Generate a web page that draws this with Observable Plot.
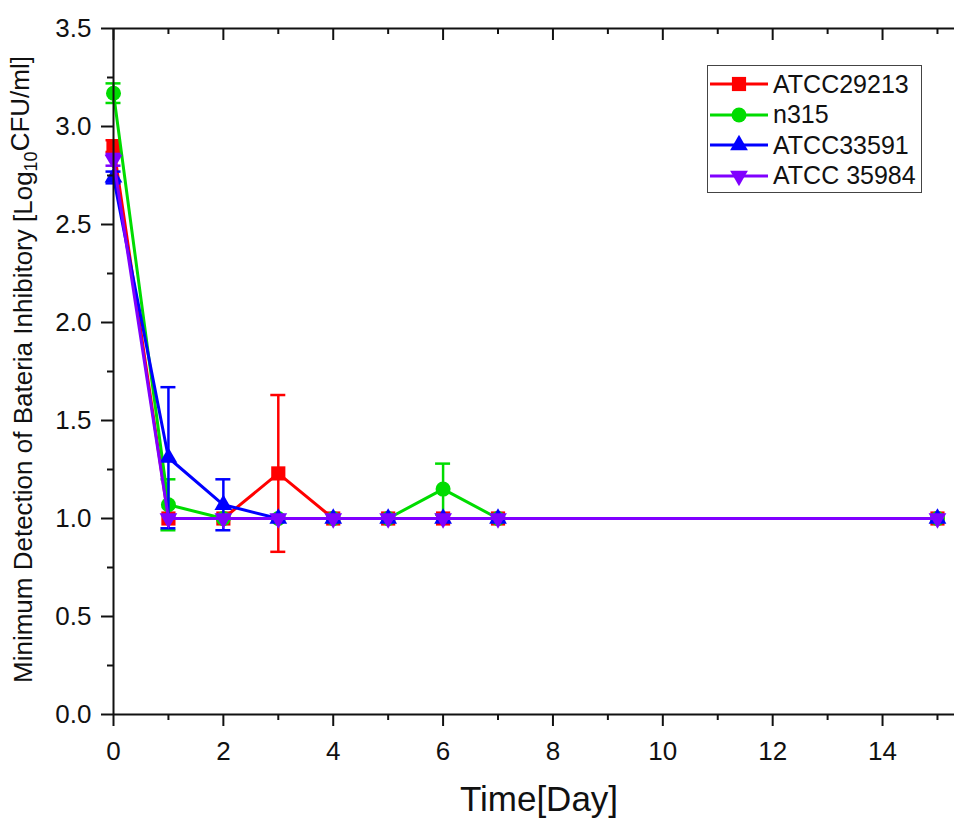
<!DOCTYPE html>
<html><head><meta charset="utf-8">
<script src="https://cdn.jsdelivr.net/npm/d3@7"></script>
<script src="https://cdn.jsdelivr.net/npm/@observablehq/plot@0.6"></script>
<style>
html,body{margin:0;padding:0;background:#fff;overflow:hidden}
#wrap{position:relative;width:954px;height:822px;font-family:"Liberation Sans",Arial,sans-serif}
#wrap svg{display:block}
#legend{position:absolute;left:707px;top:65px;width:215px;height:128px;border:1.5px solid #444;background:#fff;box-sizing:border-box;padding-top:3px}
.row{display:flex;align-items:center;height:30.5px}
.row span{font-size:25px;color:#111;margin-left:3px;white-space:pre}
</style></head><body><div id="wrap"><div id="legend"></div></div>
<script>
const days = [0, 1, 2, 3, 4, 5, 6, 7, 15];
const seriesNames = ["ATCC29213", "n315", "ATCC33591", "ATCC 35984"];
const atcc29213 = [2.90, 1.00, 1.00, 1.23, 1.00, 1.00, 1.00, 1.00, 1.00];
const atcc29213Err = [0.03, 0, 0, 0.40, 0, 0, 0, 0, 0];
const n315 = [3.17, 1.07, 1.00, 1.00, 1.00, 1.00, 1.15, 1.00, 1.00];
const n315Err = [0.05, 0.13, 0, 0, 0, 0, 0.13, 0, 0];
const atcc33591 = [2.74, 1.31, 1.07, 1.00, 1.00, 1.00, 1.00, 1.00, 1.00];
const atcc33591Err = [0.03, 0.36, 0.13, 0, 0, 0, 0, 0, 0];
const atcc35984 = [2.83, 1.00, 1.00, 1.00, 1.00, 1.00, 1.00, 1.00, 1.00];
const atcc35984Err = [0.03, 0, 0, 0, 0, 0, 0, 0, 0];
const xMajor = [0, 2, 4, 6, 8, 10, 12, 14];
const xMinor = [1, 3, 5, 7, 9, 11, 13, 15];
const yMajor = [0, 0.5, 1.0, 1.5, 2.0, 2.5, 3.0, 3.5];
const yMinor = [0.25, 0.75, 1.25, 1.75, 2.25, 2.75, 3.25];
const xLabel = "Time[Day]";
const yLabelParts = ["Minimum Detection of Bateria Inhibitory [Log", "10", "CFU/ml]"];

const colors = ["#ff0000", "#00dc00", "#0000ff", "#8000ff"];
const symbols = ["square", "circle", "triangle", "triangle"];
const rotations = [0, 0, 0, 180];
const radii = [8, 7.5, 6.6, 6.6];
const values = [atcc29213, n315, atcc33591, atcc35984];
const errs = [atcc29213Err, n315Err, atcc33591Err, atcc35984Err];
const ink = "#111";
const yTop = yMajor[yMajor.length - 1];

const marks = [];
values.forEach((vals, k) => {
  const data = days.map((d, i) => ({day: d, v: vals[i], e: errs[k][i]}));
  const eb = data.filter(d => d.e > 0);
  const c = colors[k];
  marks.push(Plot.ruleX(eb, {x: "day", y1: d => d.v - d.e, y2: d => d.v + d.e, stroke: c, strokeWidth: 2.5}));
  marks.push(Plot.ruleY(eb, {y: d => d.v + d.e, x1: "day", x2: "day", insetLeft: -7.5, insetRight: -7.5, stroke: c, strokeWidth: 2.5}));
  marks.push(Plot.ruleY(eb, {y: d => d.v - d.e, x1: "day", x2: "day", insetLeft: -7.5, insetRight: -7.5, stroke: c, strokeWidth: 2.5}));
  marks.push(Plot.line(data, {x: "day", y: "v", stroke: c, strokeWidth: 3}));
  marks.push(Plot.dot(data, {x: "day", y: "v", symbol: symbols[k], r: radii[k], rotate: rotations[k], fill: c, stroke: "none"}));
});

const yLabelText = yLabelParts.join("");
const chart = Plot.plot({
  width: 954, height: 822,
  marginLeft: 113, marginRight: 0, marginTop: 28, marginBottom: 108,
  style: {fontFamily: "'Liberation Sans', Arial, sans-serif", color: ink, background: "#fff", overflow: "visible"},
  x: {domain: [0, 15.31], label: null},
  y: {domain: [0, 3.5], label: null},
  marks: [
    ...marks,
    Plot.ruleY([0], {stroke: ink, strokeWidth: 2}),
    Plot.ruleY([yTop], {stroke: ink, strokeWidth: 2}),
    Plot.ruleX([0], {stroke: ink, strokeWidth: 2}),
    Plot.axisY({ticks: yMajor, anchor: "left", tickSize: 12, tickPadding: 10, tickFormat: d3.format(".1f"), fontSize: 26, label: null, strokeWidth: 2}),
    Plot.axisY({ticks: yMinor, anchor: "left", tickSize: 6, tickFormat: () => "", label: null, strokeWidth: 2}),
    Plot.axisX({ticks: xMajor, anchor: "bottom", tickSize: 12, tickPadding: 15, tickFormat: d3.format("d"), fontSize: 26, label: null, strokeWidth: 2}),
    Plot.axisX({ticks: xMinor, anchor: "bottom", tickSize: 6, tickFormat: () => "", label: null, strokeWidth: 2}),
    // inward ticks on the top edge
    Plot.ruleX(xMajor, {x: d => d, y1: yTop, y2: yTop, insetBottom: -12, stroke: ink, strokeWidth: 2}),
    Plot.ruleX(xMinor, {x: d => d, y1: yTop, y2: yTop, insetBottom: -6, stroke: ink, strokeWidth: 2}),
    Plot.text([xLabel], {frameAnchor: "bottom", dy: 96, dx: 5, fontSize: 35, fill: ink}),
    Plot.text([yLabelText], {frameAnchor: "left", textAnchor: "middle", dx: -90, dy: -2, rotate: -90, fontSize: 26, fill: ink})
  ]
});

// subscript in the y-axis title
d3.select(chart).selectAll("text").each(function() {
  if (this.textContent === yLabelText) {
    const t = d3.select(this);
    t.text(null);
    t.append("tspan").text(yLabelParts[0]);
    t.append("tspan").attr("font-size", 18).attr("dy", "0.3em").text(yLabelParts[1]);
    t.append("tspan").attr("dy", "-0.3em").text(yLabelParts[2]);
  }
});
document.getElementById("wrap").prepend(chart);

// legend
const legend = d3.select("#legend");
seriesNames.forEach((name, k) => {
  const row = legend.append("div").attr("class", "row");
  const svg = row.append("svg").attr("width", 62).attr("height", 30);
  svg.append("line").attr("x1", 2).attr("x2", 60).attr("y1", 15).attr("y2", 15).attr("stroke", colors[k]).attr("stroke-width", 3);
  const sym = [d3.symbolSquare, d3.symbolCircle, d3.symbolTriangle, d3.symbolTriangle][k];
  svg.append("path").attr("d", d3.symbol(sym, Math.PI * radii[k] * radii[k])())
    .attr("transform", `translate(31,15) rotate(${rotations[k]})`).attr("fill", colors[k]);
  row.append("span").text(name);
});
</script></body></html>
